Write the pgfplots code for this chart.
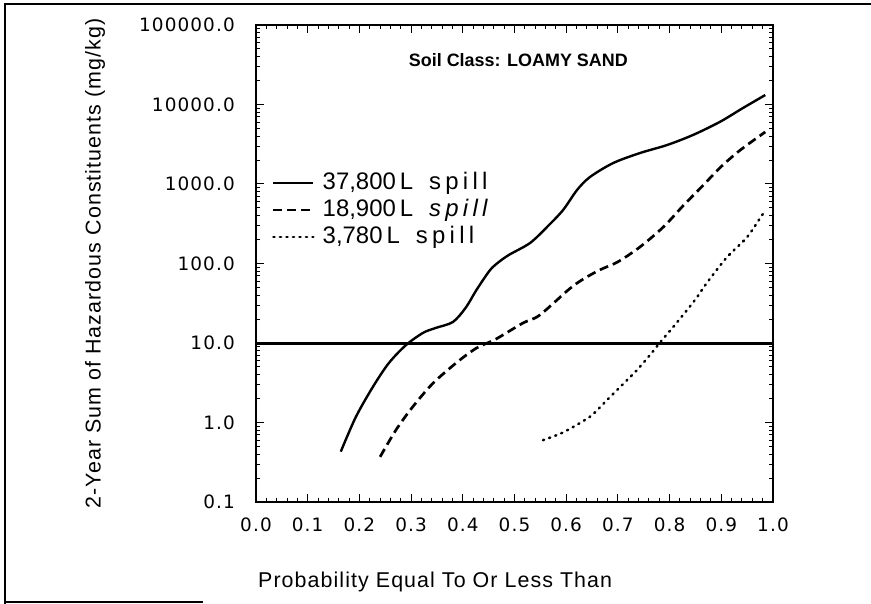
\documentclass[border=0pt]{standalone}
\usepackage{pgfplots}
\pgfplotsset{compat=1.18}
\usepackage{fontspec}
\setmainfont{Liberation Sans}
\newfontfamily\tickfont[LetterSpace=6]{DejaVu Sans}
\newfontfamily\labfont[LetterSpace=5]{Liberation Sans}
\newfontfamily\legfont{Liberation Sans}

\begin{document}
\begin{tikzpicture}
\useasboundingbox (-256bp,-102bp) rectangle (615bp,502bp);
\begin{axis}[
  scale only axis, width=517bp, height=477bp,
  xmin=0, xmax=1,
  ymode=log, ymin=0.1, ymax=100000,
  xtick={0,0.1,0.2,0.3,0.4,0.5,0.6,0.7,0.8,0.9,1.0},
  xticklabels={0.0,0.1,0.2,0.3,0.4,0.5,0.6,0.7,0.8,0.9,1.0},
  minor x tick num=4,
  ytick={0.1,1,10,100,1000,10000,100000},
  yticklabels={0.1,1.0,10.0,100.0,1000.0,10000.0,100000.0},
  minor ytick={0.2,0.3,0.4,0.5,0.6,0.7,0.8,0.9,
               2,3,4,5,6,7,8,9,
               20,30,40,50,60,70,80,90,
               200,300,400,500,600,700,800,900,
               2000,3000,4000,5000,6000,7000,8000,9000,
               20000,30000,40000,50000,60000,70000,80000,90000},
  tick label style={font=\tickfont\fontsize{18.5}{20}\selectfont},
  xticklabel style={anchor=north, inner sep=0pt, yshift=-16bp},
  yticklabel style={anchor=east, inner sep=0pt, xshift=-21bp},
  major tick length=8bp, minor tick length=4.5bp,
  every tick/.style={black, line width=1bp},
  axis line style={line width=1.4bp},
  xlabel={Probability Equal To Or Less Than},
  xlabel style={at={(rel axis cs:0,0)}, anchor=base west, inner sep=0pt,
                xshift=2bp, yshift=-85bp, font=\labfont\fontsize{21.5}{24}\selectfont},
  ylabel={2-Year Sum of Hazardous Constituents (mg/kg)},
  % the label is turned by 90 degrees, so its own y direction points left
  ylabel style={at={(rel axis cs:0,0.5)}, anchor=center, inner sep=0pt,
                yshift=161bp, font=\labfont\fontsize{21.5}{24}\selectfont},
  legend image code/.code={\draw[#1] (0bp,7bp) -- (40bp,7bp);},
  legend style={at={(0.031,0.694)}, anchor=north west, draw=none, fill=none,
                inner sep=0pt, outer sep=0pt, row sep=0pt, column sep=0pt,
                font=\legfont\fontsize{24}{27}\selectfont,
                cells={anchor=base west},
                nodes={inner sep=0pt, text height=19bp, text depth=8bp},
                /tikz/every odd column/.style={column sep=8bp}},
]
% regulatory threshold at 10 mg/kg
\addplot[black, line width=3bp, forget plot] coordinates {(0,10) (1,10)};

% 37,800 L spill
\addplot[black, line width=2.4bp, smooth] coordinates {
  (0.164,0.43) (0.193,1.17) (0.226,2.8) (0.257,5.6) (0.290,9.4)
  (0.323,13.4) (0.348,15.5) (0.381,18.4) (0.406,28) (0.426,46)
  (0.451,80) (0.466,100) (0.489,128) (0.530,181) (0.563,288)
  (0.594,471) (0.621,841) (0.646,1225) (0.691,1837) (0.743,2455)
  (0.795,3090) (0.845,4130) (0.897,6030) (0.942,9040) (0.985,13150)};
\addlegendentry{37,800\,L\hspace{16bp}{\addfontfeature{LetterSpace=18}spill}}

% 18,900 L spill
\addplot[black, line width=2.7bp, dash pattern=on 9bp off 5bp, smooth] coordinates {
  (0.240,0.37) (0.271,0.81) (0.303,1.57) (0.342,3.1) (0.387,5.6)
  (0.426,8.6) (0.464,11.2) (0.516,17.8) (0.549,22.5) (0.613,52)
  (0.660,80) (0.700,105) (0.743,162) (0.788,288) (0.827,540)
  (0.862,920) (0.899,1637) (0.937,2680) (0.985,4510)};
\addlegendentry{18,900\,L\hspace{16bp}{\itshape\addfontfeature{LetterSpace=18}spill}}

% 3,780 L spill
\addplot[black, line width=2.5bp, line cap=round, dash pattern=on 1.2bp off 5.3bp, smooth] coordinates {
  (0.555,0.6) (0.592,0.74) (0.627,0.99) (0.650,1.24) (0.679,1.92)
  (0.708,2.96) (0.737,4.57) (0.762,7.06) (0.787,11.2) (0.810,16.8)
  (0.849,34.7) (0.872,57) (0.911,120) (0.950,215) (0.979,407) (0.985,450)};
\addlegendentry{3,780\,L\hspace{16bp}{\addfontfeature{LetterSpace=18}spill}}

\node[anchor=base east, inner sep=0pt, font=\bfseries\fontsize{18}{20}\selectfont]
  at (rel axis cs:0.7195,0.914) {Soil Class: LOAMY SAND};
\end{axis}
% page frame
\draw[line width=2bp] (-251bp,-102bp) -- (-251bp,498bp) -- (615bp,498bp);
\draw[line width=1.5bp] (-251bp,-100bp) -- (-53bp,-100bp);
\end{tikzpicture}
\end{document}
